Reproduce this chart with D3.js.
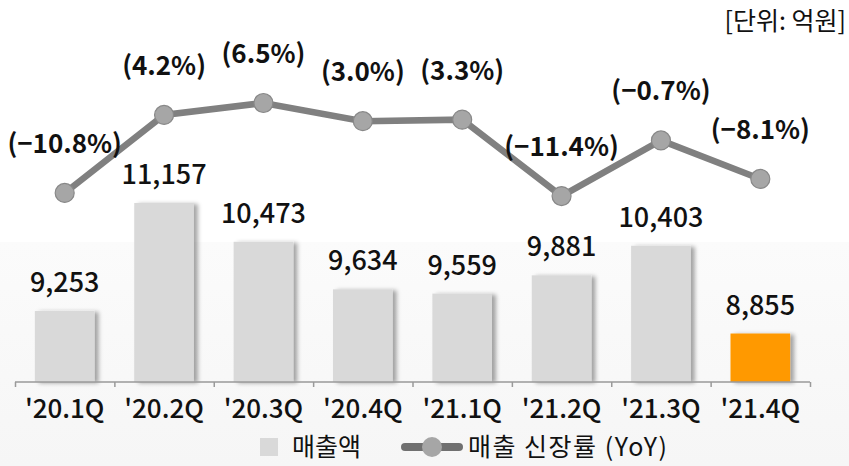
<!DOCTYPE html>
<html>
<head>
<meta charset="utf-8">
<script src="https://cdn.jsdelivr.net/npm/d3@7"></script>
<style>
  body { margin: 0; background: #fff; }
  svg text { font-family: "Noto Sans CJK KR", "Noto Sans", sans-serif; fill: #111; }
</style>
</head>
<body>
<div id="chart"></div>
<script>
// quarters and values
var quarters = ["'20.1Q", "'20.2Q", "'20.3Q", "'20.4Q", "'21.1Q", "'21.2Q", "'21.3Q", "'21.4Q"];
var sales = [9253, 11157, 10473, 9634, 9559, 9881, 10403, 8855];
var growth = [-10.8, 4.2, 6.5, 3.0, 3.3, -11.4, -0.7, -8.1];

var W = 849, H = 466;
var baseY = 382;

var svg = d3.select('#chart').append('svg')
    .attr('width', W).attr('height', H);

var defs = svg.append('defs');
var bg = defs.append('linearGradient').attr('id', 'bgGrad')
    .attr('x1', 0).attr('y1', 0).attr('x2', 0).attr('y2', 1);
bg.append('stop').attr('offset', '0%').attr('stop-color', '#fbfbfb');
bg.append('stop').attr('offset', '100%').attr('stop-color', '#f6f6f6');

var sh = defs.append('filter').attr('id', 'shadow')
    .attr('x', '-10%').attr('y', '-10%').attr('width', '130%').attr('height', '120%');
sh.append('feDropShadow').attr('dx', 4).attr('dy', 1).attr('stdDeviation', 2)
    .attr('flood-color', '#000').attr('flood-opacity', 0.35);

// light gray lower background
svg.append('rect').attr('x', 0).attr('y', 242).attr('width', W).attr('height', H - 242)
    .attr('fill', 'url(#bgGrad)');

var x = d3.scaleBand().domain(quarters).range([15, 810])
    .paddingInner(0.4).paddingOuter(0.2);
var y = d3.scaleLinear().domain([8000, 12000]).range([baseY, 155.2]);
var y2 = d3.scaleLinear().domain([-20, 10]).range([240.8, 84.8]);

var step = x.step();

// bars
svg.selectAll('rect.bar')
    .data(sales)
    .enter()
  .append('rect')
    .attr('class', 'bar')
    .attr('x', function(d, i) { return x(quarters[i]); })
    .attr('y', function(d) { return y(d); })
    .attr('width', x.bandwidth())
    .attr('height', function(d) { return baseY - y(d); })
    .attr('fill', function(d, i) { return i == quarters.length - 1 ? '#ff9900' : '#d9d9d9'; })
    .attr('filter', 'url(#shadow)');

// axis line with ticks at band edges
var axis = d3.axisBottom(d3.scaleLinear().domain([0, 8]).range([15, 15 + step * 8]))
    .ticks(8).tickSize(5).tickFormat('');
var ax = svg.append('g').attr('transform', 'translate(0,' + baseY + ')').call(axis);
ax.select('.domain').attr('stroke', '#9a9a9a').attr('stroke-width', 1.5)
    .attr('d', 'M15,0H' + (15 + step * 8));
ax.selectAll('.tick line').attr('stroke', '#9a9a9a').attr('stroke-width', 1.5);

// x labels
svg.selectAll('text.xl')
    .data(quarters)
    .enter()
  .append('text')
    .attr('class', 'xl')
    .attr('x', function(d) { return x(d) + x.bandwidth() / 2; })
    .attr('y', 418)
    .attr('text-anchor', 'middle')
    .attr('font-size', 26)
    .attr('font-weight', 500)
    .text(function(d) { return d; });

// bar value labels
svg.selectAll('text.vl')
    .data(sales)
    .enter()
  .append('text')
    .attr('class', 'vl')
    .attr('x', function(d, i) { return x(quarters[i]) + x.bandwidth() / 2; })
    .attr('y', function(d) { return y(d) - 19; })
    .attr('text-anchor', 'middle')
    .attr('font-size', 27)
    .attr('font-weight', 500)
    .text(function(d) { return d3.format(',')(d); });

// growth line
var cx = function(d, i) { return x(quarters[i]) + x.bandwidth() / 2; };
var line = d3.line().x(cx).y(function(d) { return y2(d); });
svg.append('path').datum(growth)
    .attr('d', line)
    .attr('fill', 'none')
    .attr('stroke', '#808080')
    .attr('stroke-width', 6.5);

svg.selectAll('circle.pt')
    .data(growth)
    .enter()
  .append('circle')
    .attr('class', 'pt')
    .attr('cx', cx)
    .attr('cy', function(d) { return y2(d); })
    .attr('r', 9.5)
    .attr('fill', '#a6a6a6')
    .attr('stroke', '#888')
    .attr('stroke-width', 1.2);

svg.selectAll('text.gl')
    .data(growth)
    .enter()
  .append('text')
    .attr('class', 'gl')
    .attr('x', cx)
    .attr('y', function(d) { return y2(d) - 40; })
    .attr('text-anchor', 'middle')
    .attr('font-size', 26)
    .attr('font-weight', 'bold')
    .text(function(d) { return '(' + (d < 0 ? '\u2212' : '') + Math.abs(d).toFixed(1) + '%)'; });

// unit
svg.append('text').attr('x', 846).attr('y', 30)
    .attr('text-anchor', 'end').attr('font-size', 25)
    .text('[단위: 억원]');

// legend
var lg = svg.append('g');
lg.append('rect').attr('x', 260).attr('y', 438).attr('width', 18).attr('height', 18).attr('fill', '#d9d9d9');
lg.append('text').attr('x', 292).attr('y', 456).attr('font-size', 25).text('매출액');
lg.append('line').attr('x1', 405).attr('x2', 459).attr('y1', 447).attr('y2', 447)
    .attr('stroke', '#707070').attr('stroke-width', 8).attr('stroke-linecap', 'round');
lg.append('circle').attr('cx', 432).attr('cy', 447).attr('r', 10).attr('fill', '#a6a6a6');
lg.append('text').attr('x', 468).attr('y', 456).attr('font-size', 25)
    .attr('letter-spacing', 1.5).text('매출 신장률 (YoY)');
</script>
</body>
</html>
